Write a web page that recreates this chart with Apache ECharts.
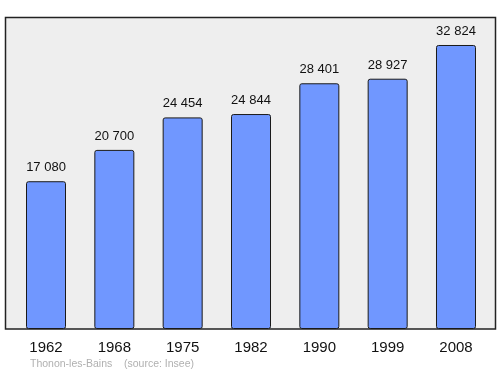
<!DOCTYPE html>
<html><head><meta charset="utf-8">
<script src="https://cdn.jsdelivr.net/npm/echarts@6/dist/echarts.min.js"></script>
<style>html,body{margin:0;padding:0;background:#fff}#c{width:500px;height:374px}</style>
</head><body><div id="c"></div>
<script>
const years = ['1962','1968','1975','1982','1990','1999','2008'];
const population = [17080, 20700, 24454, 24844, 28401, 28927, 32824];
const sourceText = 'Thonon-les-Bains    (source: Insee)';
const fmt = v => String(v).replace(/\B(?=(\d{3})+(?!\d))/g, ' ');
const chart = echarts.init(document.getElementById('c'));
chart.setOption({
  animation: false,
  graphic: [
    {type:'rect', z:-10, shape:{x:5.5,y:17.5,width:490,height:311.5},
     style:{fill:'#eeeeee', stroke:'#222', lineWidth:1.5}},
    {type:'text', left:30, top:359, style:{text:sourceText, fill:'#b0b0b0', font:'10.5px "Liberation Sans", Arial, sans-serif'}}
  ],
  grid: {left:11.85, right:9.85, top:17, bottom:45, containLabel:false},
  xAxis: {type:'category', data: years, boundaryGap:true,
    axisLine:{show:false}, axisTick:{show:false},
    axisLabel:{color:'#111', fontSize:15, margin:11, fontFamily:'"Liberation Sans", Arial, sans-serif'}},
  yAxis: {type:'value', min:0, max:36060, show:false, splitLine:{show:false}},
  series: [{type:'bar', data: population, barWidth:40,
    itemStyle:{color:'#7097ff', borderColor:'#1a1a1a', borderWidth:1, borderRadius:2},
    label:{show:true, position:'top', distance:7, color:'#111', fontSize:13,
      fontFamily:'"Liberation Sans", Arial, sans-serif', formatter: p => fmt(p.value)}}]
});
</script></body></html>
